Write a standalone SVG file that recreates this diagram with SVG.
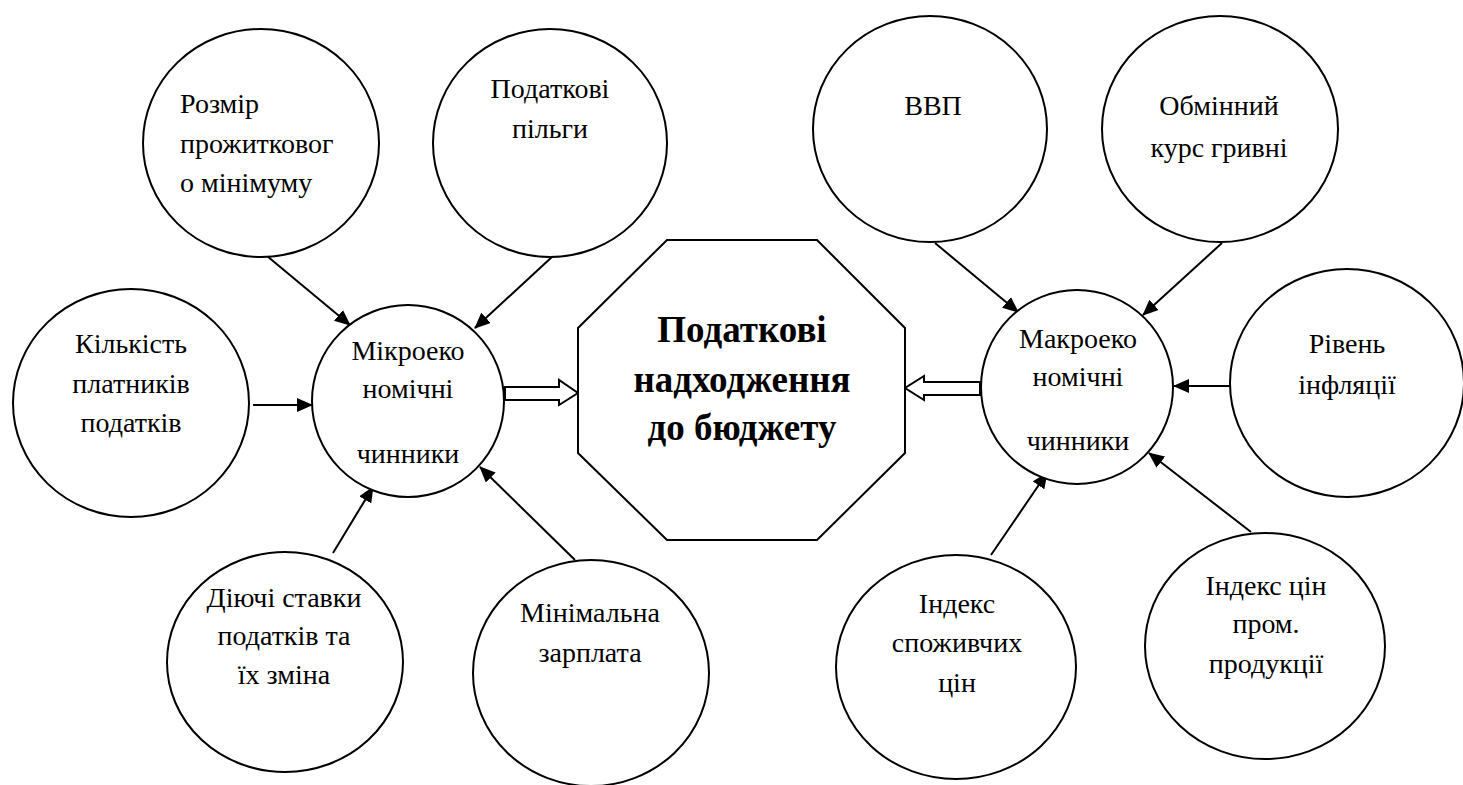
<svg xmlns="http://www.w3.org/2000/svg" width="1463" height="785" viewBox="0 0 1463 785" style="font-family:'Liberation Serif',serif">
<defs>
<marker id="ah" markerUnits="userSpaceOnUse" markerWidth="16" markerHeight="14" refX="15" refY="7" orient="auto">
<path d="M0,0 L16,7 L0,14 z" fill="#000"/>
</marker>
</defs>
<rect width="1463" height="785" fill="#fff"/>
<g id="connectors" stroke="#000" stroke-width="2">
<line marker-end="url(#ah)" x1="267" y1="256" x2="350" y2="325"/>
<line marker-end="url(#ah)" x1="553" y1="256" x2="475" y2="328"/>
<line marker-end="url(#ah)" x1="253" y1="405" x2="312" y2="405"/>
<line marker-end="url(#ah)" x1="333" y1="553" x2="373" y2="487"/>
<line marker-end="url(#ah)" x1="575" y1="560" x2="480" y2="467"/>
<line marker-end="url(#ah)" x1="935" y1="243" x2="1018" y2="312"/>
<line marker-end="url(#ah)" x1="1222" y1="243" x2="1143" y2="315"/>
<line marker-end="url(#ah)" x1="1230" y1="386" x2="1174" y2="386"/>
<line marker-end="url(#ah)" x1="991" y1="555" x2="1047" y2="473"/>
<line marker-end="url(#ah)" x1="1251" y1="532" x2="1149" y2="453"/>
<path fill="#fff" d="M505,387 L559,387 L559,380 L578,393 L559,405 L559,400 L505,400 z"/>
<path fill="#fff" d="M980,382 L924,382 L924,376 L905,388 L924,400 L924,395 L980,395 z"/>
</g>
<g id="center">
<polygon fill="#fff" stroke="#000" stroke-width="2" points="667,240 817,240 905,328 905,453 817,540 667,540 578,453 578,328"/>
<text style="font-family:'Liberation Serif',serif;font-weight:bold;font-size:37px" text-anchor="middle" x="742" y="342">Податкові</text>
<text style="font-family:'Liberation Serif',serif;font-weight:bold;font-size:37px" text-anchor="middle" x="742" y="392">надходження</text>
<text style="font-family:'Liberation Serif',serif;font-weight:bold;font-size:37px" text-anchor="middle" x="742" y="440">до бюджету</text>
</g>
<g id="micro">
<ellipse fill="#fff" stroke="#000" stroke-width="2" cx="408" cy="401" rx="96" ry="96"/>
<text style="font-family:'Liberation Serif',serif;font-size:28px" text-anchor="middle" x="408" y="360">Мікроеко</text>
<text style="font-family:'Liberation Serif',serif;font-size:28px" text-anchor="middle" x="408" y="398">номічні</text>
<text style="font-family:'Liberation Serif',serif;font-size:28px" text-anchor="middle" x="408" y="463">чинники</text>
</g>
<g id="macro">
<ellipse fill="#fff" stroke="#000" stroke-width="2" cx="1077" cy="387" rx="96" ry="97"/>
<text style="font-family:'Liberation Serif',serif;font-size:28px" text-anchor="middle" x="1078" y="348">Макроеко</text>
<text style="font-family:'Liberation Serif',serif;font-size:28px" text-anchor="middle" x="1078" y="386">номічні</text>
<text style="font-family:'Liberation Serif',serif;font-size:28px" text-anchor="middle" x="1078" y="450">чинники</text>
</g>
<g id="rozmir">
<ellipse fill="#fff" stroke="#000" stroke-width="2" cx="261" cy="143" rx="118" ry="114"/>
<text style="font-family:'Liberation Serif',serif;font-size:28px" x="180" y="113">Розмір</text>
<text style="font-family:'Liberation Serif',serif;font-size:28px" x="180" y="153">прожитковог</text>
<text style="font-family:'Liberation Serif',serif;font-size:28px" x="180" y="192">о мінімуму</text>
</g>
<g id="pilhy">
<ellipse fill="#fff" stroke="#000" stroke-width="2" cx="550" cy="143" rx="117" ry="114"/>
<text style="font-family:'Liberation Serif',serif;font-size:28px" text-anchor="middle" x="550" y="98">Податкові</text>
<text style="font-family:'Liberation Serif',serif;font-size:28px" text-anchor="middle" x="550" y="138">пільги</text>
</g>
<g id="kilkist">
<ellipse fill="#fff" stroke="#000" stroke-width="2" cx="131" cy="403" rx="118" ry="114"/>
<text style="font-family:'Liberation Serif',serif;font-size:28px" text-anchor="middle" x="131" y="353">Кількість</text>
<text style="font-family:'Liberation Serif',serif;font-size:28px" text-anchor="middle" x="131" y="393">платників</text>
<text style="font-family:'Liberation Serif',serif;font-size:28px" text-anchor="middle" x="131" y="432">податків</text>
</g>
<g id="stavky">
<ellipse fill="#fff" stroke="#000" stroke-width="2" cx="285" cy="662" rx="118" ry="110"/>
<text style="font-family:'Liberation Serif',serif;font-size:28px" text-anchor="middle" x="284" y="607">Діючі ставки</text>
<text style="font-family:'Liberation Serif',serif;font-size:28px" text-anchor="middle" x="284" y="645">податків та</text>
<text style="font-family:'Liberation Serif',serif;font-size:28px" text-anchor="middle" x="284" y="684">їх зміна</text>
</g>
<g id="minimalna">
<ellipse fill="#fff" stroke="#000" stroke-width="2" cx="591" cy="673" rx="118" ry="113"/>
<text style="font-family:'Liberation Serif',serif;font-size:28px" text-anchor="middle" x="590" y="622">Мінімальна</text>
<text style="font-family:'Liberation Serif',serif;font-size:28px" text-anchor="middle" x="590" y="662">зарплата</text>
</g>
<g id="vvp">
<ellipse fill="#fff" stroke="#000" stroke-width="2" cx="930" cy="129" rx="117" ry="113"/>
<text style="font-family:'Liberation Serif',serif;font-size:28px" text-anchor="middle" x="933" y="115">ВВП</text>
</g>
<g id="kurs">
<ellipse fill="#fff" stroke="#000" stroke-width="2" cx="1220" cy="129" rx="118" ry="113"/>
<text style="font-family:'Liberation Serif',serif;font-size:28px" text-anchor="middle" x="1219" y="115">Обмінний</text>
<text style="font-family:'Liberation Serif',serif;font-size:28px" text-anchor="middle" x="1219" y="157">курс гривні</text>
</g>
<g id="inflation">
<ellipse fill="#fff" stroke="#000" stroke-width="2" cx="1347" cy="383" rx="117" ry="114"/>
<text style="font-family:'Liberation Serif',serif;font-size:28px" text-anchor="middle" x="1347" y="353">Рівень</text>
<text style="font-family:'Liberation Serif',serif;font-size:28px" text-anchor="middle" x="1347" y="394">інфляції</text>
</g>
<g id="ispc">
<ellipse fill="#fff" stroke="#000" stroke-width="2" cx="956" cy="667" rx="120" ry="112"/>
<text style="font-family:'Liberation Serif',serif;font-size:28px" text-anchor="middle" x="957" y="613">Індекс</text>
<text style="font-family:'Liberation Serif',serif;font-size:28px" text-anchor="middle" x="957" y="652">споживчих</text>
<text style="font-family:'Liberation Serif',serif;font-size:28px" text-anchor="middle" x="957" y="692">цін</text>
</g>
<g id="icpp">
<ellipse fill="#fff" stroke="#000" stroke-width="2" cx="1265" cy="646" rx="120" ry="113"/>
<text style="font-family:'Liberation Serif',serif;font-size:28px" text-anchor="middle" x="1266" y="595">Індекс цін</text>
<text style="font-family:'Liberation Serif',serif;font-size:28px" text-anchor="middle" x="1266" y="633">пром.</text>
<text style="font-family:'Liberation Serif',serif;font-size:28px" text-anchor="middle" x="1266" y="673">продукції</text>
</g>
</svg>
